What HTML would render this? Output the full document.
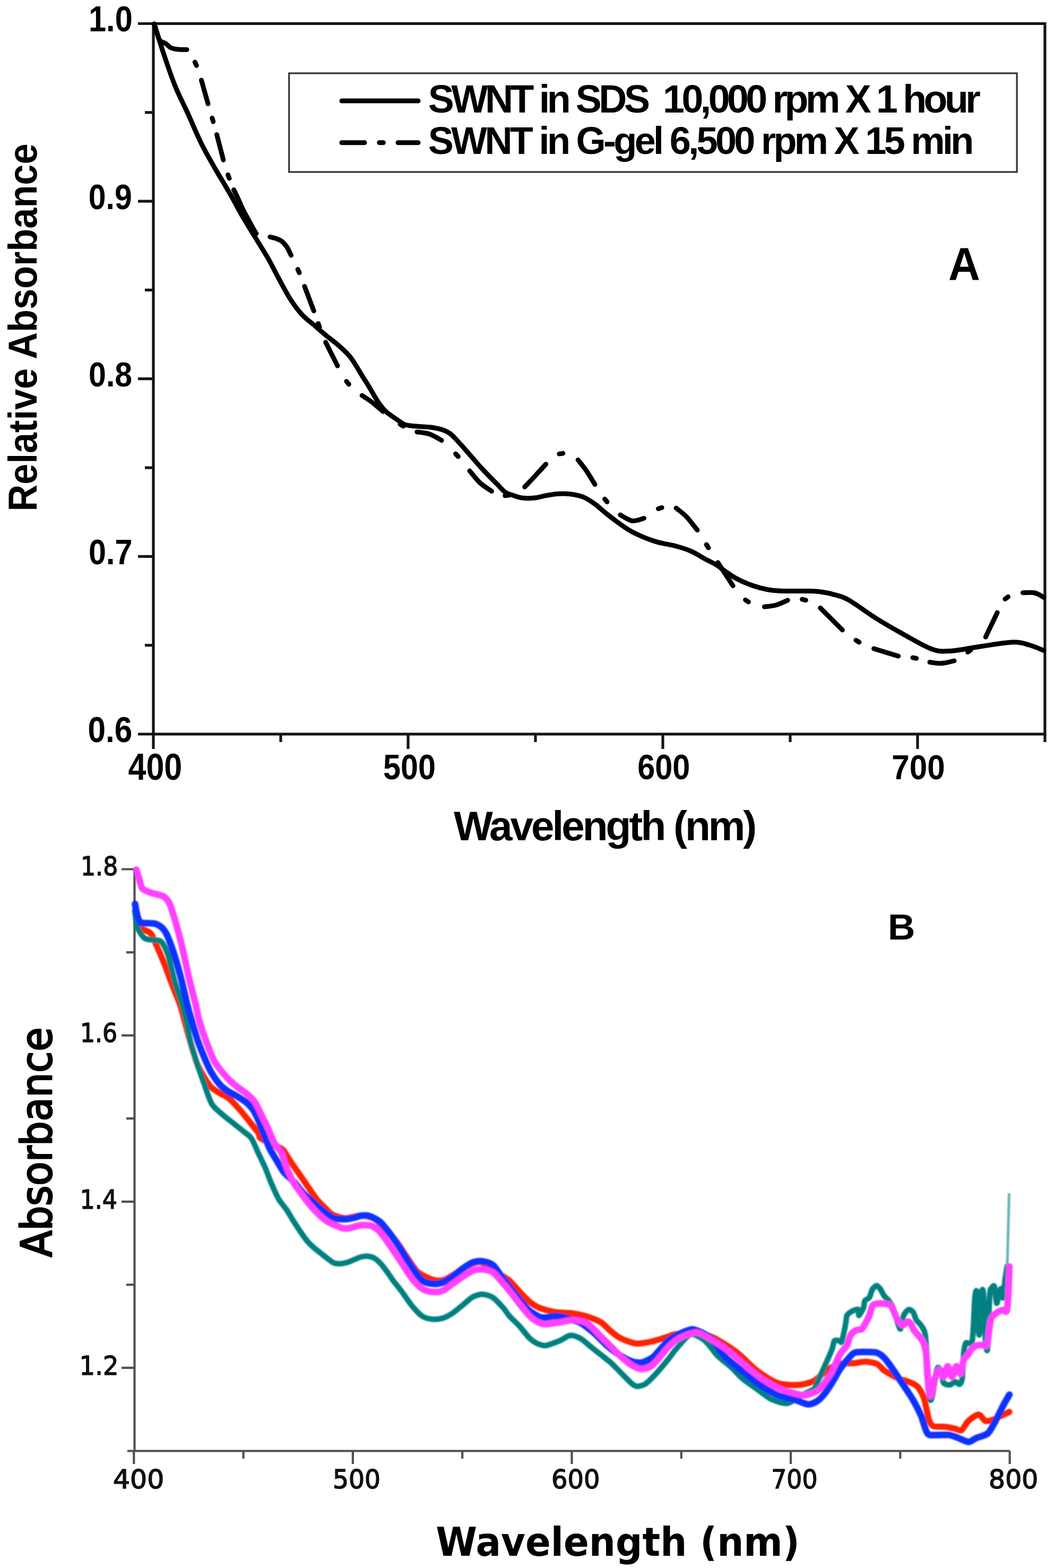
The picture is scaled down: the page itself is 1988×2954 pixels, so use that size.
<!DOCTYPE html><html><head><meta charset="utf-8"><title>SWNT absorbance spectra</title>
<style>html,body{margin:0;padding:0;background:#fff}svg{display:block}</style></head><body>
<svg xmlns="http://www.w3.org/2000/svg" width="1988" height="2954" viewBox="0 0 1988 2954">
<rect width="1988" height="2954" fill="#fff"/>
<g fill="none" stroke="#141414" stroke-width="5.2">
<rect x="289" y="44.5" width="1680" height="1338.5"/>
<path d="M260 44.5H289M260 379.1H289M260 713.7H289M260 1048.4H289M260 1383H289M273 211.8H289M273 546.4H289M273 881.1H289M273 1215.7H289M289 1383V1411M769 1383V1411M1249 1383V1411M1729 1383V1411M529 1383V1398M1009 1383V1398M1489 1383V1398M1969 1383V1398"/>
</g>
<rect x="544.7" y="138" width="1371.5" height="186" fill="none" stroke="#333" stroke-width="3.2"/>
<g fill="none" stroke="#000" stroke-width="9" stroke-linecap="round" stroke-linejoin="round">
<path d="M644 190H788"/>
<path d="M644 268.7H687M714.8 268.7H722.4M750 268.7H788"/>
<path d="M290.7 45C293.6 54.2 301.5 80.6 308 100C314.5 119.4 322.2 142.7 329.7 161.2C337.1 179.7 344.3 192.7 352.7 211C361.1 229.3 370.7 252.9 379.8 271.2C388.9 289.5 400.5 309 407.3 321C414.1 333 416.1 335.5 420.5 343C424.9 350.5 430 359 434 366C438 373 441 378.6 444.5 385C448 391.4 449.7 395 455 404.2C460.3 413.4 468.2 426.4 476.5 440C484.8 453.6 496.9 472.6 504.7 486C512.5 499.4 516.1 507.9 523 520.5C529.9 533.1 538.4 549.8 546 561.8C553.6 573.8 561.3 584.1 568.9 592.5C576.5 600.9 584.1 605.8 591.8 612.4C599.4 619 607.1 625.9 614.8 632.3C622.5 638.7 630.1 643.7 637.8 650.6C645.4 657.5 653.1 663.7 660.7 673.6C668.4 683.5 677.9 700.9 683.7 710C689.5 719.1 690.8 720.9 695.3 728.3C699.8 735.7 705.5 746.6 710.6 754.3C715.7 761.9 719.6 768.1 726 774.2C732.4 780.3 742.5 786.7 748.9 791C755.3 795.3 757.8 798.2 764.2 800.2C770.6 802.2 779.5 802.5 787.1 803.3C794.8 804.1 802.5 803.8 810.1 804.8C817.8 805.8 826.6 807.4 833 809.4C839.4 811.4 843.6 813.6 848.4 817C853.1 820.4 857 825.3 861.5 830C866 834.7 870.4 839.7 875.3 845.2C880.1 850.7 885.5 856.9 890.6 862.8C895.7 868.7 900.8 874.8 905.9 880.4C911 886 916.1 891.3 921.2 896.5C926.3 901.7 931.4 906.7 936.5 911.8C941.6 916.9 946.7 923.5 951.8 927.1C956.9 930.7 961.7 931.4 967.1 933.2C972.5 935 977.5 937.2 984.2 938C990.9 938.8 999.5 938.8 1007.1 938C1014.8 937.2 1022.4 934.7 1030.1 933.4C1037.8 932.1 1045.3 930.7 1053 930.3C1060.7 929.9 1068.3 930 1076 931C1083.7 932 1091.3 933.2 1099 936.4C1106.7 939.6 1115.2 945.4 1122 950.2C1128.8 955.1 1133.2 960.1 1140 965.5C1146.8 970.9 1154 976.7 1162.5 982.8C1171 988.9 1179.5 995.8 1191.2 1001.9C1202.9 1008 1218.9 1014.9 1232.7 1019.4C1246.5 1023.9 1262.4 1025.8 1274.1 1029C1285.8 1032.2 1293.8 1034.6 1302.8 1038.6C1311.8 1042.6 1320.5 1048.7 1328.3 1052.9C1336.1 1057.1 1343.8 1060.5 1349.6 1064C1355.4 1067.5 1357 1069.5 1363 1073.7C1369 1077.9 1378.2 1084.7 1385.9 1089C1393.6 1093.3 1401.2 1096.7 1408.9 1099.7C1416.6 1102.8 1424.2 1105.2 1431.8 1107.3C1439.4 1109.3 1447.1 1111 1454.8 1112C1462.5 1113 1470.1 1113.2 1477.8 1113.5C1485.5 1113.8 1493 1113.5 1500.7 1113.5C1508.4 1113.5 1516.1 1113.2 1523.7 1113.5C1531.3 1113.8 1538.9 1114 1546.6 1115C1554.2 1116 1561 1117.1 1569.6 1119.6C1578.2 1122.1 1584.8 1122.3 1598.4 1129.9C1612 1137.5 1633.5 1154 1651 1165C1668.5 1176 1686.2 1186 1703.7 1195.7C1721.2 1205.4 1741.7 1217.8 1756.3 1222.9C1770.9 1228 1776 1227.3 1791.4 1226.4C1806.8 1225.5 1828.8 1220.5 1848.5 1217.7C1868.2 1214.9 1894.6 1210.2 1909.9 1209.8C1925.2 1209.4 1931.1 1212.9 1940.6 1215.5C1950.1 1218.1 1962.6 1223.9 1967 1225.6"/>
<path d="M290.7 45C291.4 47.5 293.3 54.8 295 60C296.7 65.2 298.2 72.3 301 76C303.8 79.7 308.5 79.7 312 82C315.5 84.3 318.2 88.2 322 90C325.8 91.8 330 92.4 335 93C340 93.6 349.2 93.4 352 93.5M367.3 117.1L370.3 123.5M379.5 151L392 195.6M399.8 222.4L401.8 229.2M408.5 253.6L420.9 301.4M429.6 329.3L432 335.9M440.6 357.5C442 360.4 446.3 369.1 449 375C451.7 380.9 454 386.8 457 393C460 399.2 463.5 405.5 467 412C470.5 418.5 475.3 427.3 478 432C480.7 436.7 482.2 438.7 483 440M508.8 446.3C511 446.9 518.1 448.5 522 450C525.9 451.5 529 452.8 532.2 455.5C535.4 458.2 538.3 461.8 541 466C543.7 470.2 547.3 478.5 548.6 481M561.2 507.5L564 513.9M573.8 539.4L591.3 585.7M599.7 609.5L602.1 616.1M613.6 644.7L636 689.3M652.9 718.5L657.3 723.9M682.2 745.1C685.2 747.1 693.4 752 700 757C706.6 762 718.3 772.3 722 775.4M754 799.2L760 802.8M785.8 813.7C789.8 814.4 802.3 815.4 810 818C817.7 820.6 828.3 827.7 832 829.6M858.6 854.9L863.4 860.1M885.1 887.1C888.3 890.8 897.3 903 904.2 909.4C911.1 915.8 922.8 922.7 926.5 925.4M951.7 933.8L958.7 933M988.7 917.4C991.9 914 1001.4 904.2 1008 897C1014.6 889.8 1025.2 878.2 1028.6 874.4M1053.8 855.1L1060.8 854.1M1089.2 866.4C1091.8 869.9 1099.8 879.4 1105.1 887.1C1110.4 894.8 1118.3 908.4 1121 912.6M1139.6 940.2L1144 945.6M1168.9 970C1172.6 971.9 1183.8 980.1 1191.2 981.2C1198.6 982.3 1209.8 977.2 1213.5 976.4M1240.5 958.4L1247.1 956.2M1274.1 957.3C1277.3 959.9 1286.5 966.3 1293.2 973.2C1299.9 980.1 1310.5 994.5 1314 998.7M1331.2 1026L1335 1032M1352.7 1059.7L1381.2 1103.6M1404.6 1130.2L1410.4 1134M1440.4 1143.1C1444 1142.6 1454.7 1142 1462 1140C1469.3 1138 1480.6 1132.3 1484.3 1130.8M1511.6 1129.1L1518.4 1130.7M1545.7 1145.3L1587.4 1186.9M1612.9 1206.2L1618.9 1209.8M1646.6 1222L1692.7 1236.1M1720 1238.9L1726.8 1240.3M1752 1247.5C1755.7 1247.9 1766.2 1250.1 1773.9 1249.7C1781.6 1249.3 1794 1245.7 1798 1244.9M1823.7 1228.5L1829.3 1224.3M1857.3 1200.1L1879.2 1154M1894 1128.5L1899.6 1124.3M1927.5 1116.7C1931.2 1116.8 1943.4 1115.5 1950 1117C1956.6 1118.5 1964.2 1124.1 1967 1125.5"/>
</g>
<g fill="none" stroke="#505050" stroke-width="4.2">
<path d="M253.5 1637.5V2733.5M240 2733.5H1903M229 1637.5H253.5M229 1950.6H253.5M229 2263.8H253.5M229 2576.9H253.5M238 1794.1H253.5M238 2107.2H253.5M238 2420.3H253.5M252.3 2733.5V2758M664.9 2733.5V2758M1077.5 2733.5V2758M1490.1 2733.5V2758M1902.7 2733.5V2758M458.6 2733.5V2748M871.2 2733.5V2748M1283.8 2733.5V2748M1696.4 2733.5V2748"/>
</g>
<defs><filter id="bl" x="-5%" y="-5%" width="110%" height="110%"><feGaussianBlur stdDeviation="1.1"/></filter></defs>
<g fill="none" stroke-width="12.5" stroke-linecap="round" stroke-linejoin="round" filter="url(#bl)">
<path stroke="#ff2200" stroke-width="11.5" d="M254.5 1715C255 1717.7 256.7 1730.6 258 1735C259.3 1739.4 260.6 1745 264 1748C267.4 1751 279.5 1753.8 283.4 1757.8C287.3 1761.8 290.2 1770.7 293.6 1778.2C297 1785.7 304.8 1803.7 308.9 1813.9C313 1824.1 320.1 1843.9 324.2 1854.7C328.3 1865.5 335.9 1882.3 340 1895C344.1 1907.7 350.7 1935.3 355 1950C359.3 1964.7 366.7 1992.3 372 2005C377.3 2017.7 389.3 2037.7 395 2045C400.7 2052.3 410.4 2057 415 2060C419.6 2063 425.1 2064.2 429.6 2067.8C434.1 2071.4 443.6 2081.4 448.7 2087C453.8 2092.6 462.7 2103.6 467.8 2110C472.9 2116.4 484.1 2130.3 487 2134.8C489.9 2139.3 487.5 2141.3 489.9 2143.6C492.3 2145.9 501 2149.9 505 2152C509 2154.1 516.2 2157.1 520 2159C523.8 2160.9 529.7 2162.4 533.5 2166.5C537.3 2170.6 543 2181.5 548.4 2189.5C553.8 2197.5 568.9 2218.9 574 2226.4C579.1 2233.9 583.7 2240.7 587 2245.5C590.3 2250.3 595.5 2258 599 2262.1C602.5 2266.2 609.9 2273 613.5 2276.5C617.1 2280 621.1 2285.5 626 2288C630.9 2290.5 642.8 2294.7 650 2295C657.2 2295.3 672.7 2289.9 680 2290C687.3 2290.1 699 2292.8 705 2296C711 2299.2 719.3 2308.1 725 2314C730.7 2319.9 742.2 2332.7 747.8 2340C753.4 2347.3 761.9 2361.2 767 2368.6C772.1 2376 781 2390.3 786.1 2395.4C791.2 2400.5 800.1 2404.6 805.2 2406.9C810.3 2409.2 819.8 2412.2 824.4 2412.6C829 2413 835.3 2411.9 840 2410C844.7 2408.1 854.4 2401.5 860 2398C865.6 2394.5 876 2386.7 882 2384C888 2381.3 899.3 2377.5 905 2378C910.7 2378.5 920.5 2385.2 925 2388C929.5 2390.8 934.4 2395.9 939.1 2399.2C943.8 2402.5 954.7 2407.9 960 2412.5C965.3 2417.1 974 2428.2 979.1 2433.6C984.2 2439 993.2 2448.6 998.3 2452.7C1003.4 2456.8 1011 2461.7 1017.4 2464.2C1023.8 2466.7 1038.4 2470.5 1046.1 2471.8C1053.8 2473.1 1067.1 2472.7 1074.8 2473.7C1082.5 2474.7 1095.8 2477.2 1103.5 2479.5C1111.2 2481.8 1125.8 2487.2 1132.2 2491C1138.6 2494.8 1146.2 2504.1 1151.3 2508.2C1156.4 2512.3 1164 2518.5 1170.4 2521.6C1176.8 2524.7 1191.4 2530.3 1199.1 2531.1C1206.8 2531.9 1219.7 2529.1 1227.8 2527.3C1235.9 2525.5 1254.3 2519.5 1260 2517.7C1265.7 2515.9 1265.7 2515.1 1270.7 2514.1C1275.7 2513.1 1289.8 2510.2 1297.5 2510.2C1305.2 2510.2 1321.1 2512.4 1328.1 2514.1C1335.1 2515.8 1341.8 2518.4 1350 2523C1358.2 2527.6 1379.2 2540.6 1389.4 2548.5C1399.6 2556.4 1416.4 2574.8 1426.5 2582.4C1436.6 2590 1454.6 2601.8 1464.8 2605.4C1475 2609 1493.9 2609.7 1503.1 2609.2C1512.3 2608.7 1526.6 2605.2 1533.7 2601.6C1540.8 2598 1550.6 2586.6 1556.7 2582.4C1562.8 2578.2 1572.5 2571.9 1579.6 2570C1586.7 2568.1 1603.3 2568.6 1610.2 2568C1617.1 2567.4 1625.6 2565 1631.2 2565.2C1636.8 2565.4 1647.5 2567.2 1652.2 2569.4C1656.9 2571.6 1662.6 2579.2 1666.3 2582C1670 2584.8 1676.6 2588.4 1680.3 2590.5C1684 2592.6 1689.6 2595.6 1694.3 2597.5C1699 2599.4 1710.7 2602.4 1715.4 2604.5C1720.1 2606.6 1726 2609.2 1729.4 2612.9C1732.8 2616.6 1738.4 2627 1740.6 2632.6C1742.8 2638.2 1744.6 2649.2 1746 2655C1747.4 2660.8 1749.3 2671.7 1751 2676C1752.7 2680.3 1755 2685.4 1759 2687C1763 2688.6 1775.5 2687.4 1781 2688C1786.5 2688.6 1795.9 2690.8 1800 2691.7C1804.1 2692.6 1808.4 2696.5 1811.7 2694.6C1815 2692.7 1820.5 2681 1824.8 2677.1C1829.1 2673.2 1839.5 2665 1843.8 2665C1848.1 2665 1853.4 2675.7 1856.9 2677C1860.4 2678.3 1866.3 2676.2 1870 2675C1873.7 2673.8 1880.7 2670 1885 2668C1889.3 2666 1899.7 2661.1 1902 2660"/>
<path stroke="#008080" stroke-width="10.5" d="M254 1716C254.4 1718.9 256.1 1733.2 257 1738C257.9 1742.8 258.8 1748 261 1752C263.2 1756 269.3 1765.5 273.2 1768C277.1 1770.5 285.9 1770.2 290 1771C294.1 1771.8 300.3 1770.3 303.8 1774C307.3 1777.7 313.1 1788.5 316.5 1798.6C319.9 1808.7 325.7 1837 329.3 1849.6C332.9 1862.2 340.5 1883.6 343.3 1893C346.1 1902.4 348.2 1911 350.2 1920C352.2 1929 355.7 1949.9 358.4 1960.8C361.1 1971.7 367.1 1990.7 370.6 2001.6C374.1 2012.5 381.1 2031.9 384.9 2042.4C388.7 2052.9 394.5 2072.3 399.2 2080C403.9 2087.7 414.7 2095.6 420 2100.4C425.3 2105.2 434 2111.6 439.1 2115.7C444.2 2119.8 453.7 2127.2 458.3 2131C462.9 2134.8 469.8 2138.8 473.6 2144.4C477.4 2150 483.4 2165.4 487 2173C490.6 2180.6 497.1 2194 500.4 2201.7C503.7 2209.4 508.5 2222.7 511.8 2230.4C515.1 2238.1 521.4 2252.6 525.2 2259.1C529 2265.6 536.3 2273.5 540 2279C543.7 2284.5 549.4 2294.6 552.8 2300C556.2 2305.4 562.1 2314.5 565.5 2319.5C568.9 2324.5 574.9 2333.2 578.3 2337.3C581.7 2341.4 587.6 2347 591 2350.1C594.4 2353.2 600.4 2357.6 603.8 2360.3C607.2 2363 613.1 2368 616.5 2370.5C619.9 2373 625.9 2378 629.3 2379.4C632.7 2380.8 638.6 2380.9 642 2380.7C645.4 2380.5 651.4 2379.2 654.8 2378.2C658.2 2377.2 664.2 2374.4 667.6 2373C671 2371.6 676.9 2368.8 680.3 2368C683.7 2367.2 689.7 2366.4 693.1 2366.7C696.5 2367 702.4 2368.5 705.8 2370.5C709.2 2372.5 715.2 2378.3 718.6 2382C722 2385.7 728.4 2394.7 731.3 2398.6C734.2 2402.5 736.5 2406.6 740 2411.3C743.5 2416 752.5 2427.2 757.4 2433.7C762.3 2440.2 771.4 2454.3 776.5 2460.4C781.6 2466.5 790.6 2476.3 795.7 2479.6C800.8 2482.9 809.7 2484.8 814.8 2485.3C819.9 2485.8 828.8 2484.9 833.9 2483.4C839 2481.9 847.9 2477.1 853 2473.8C858.1 2470.5 867.1 2462.6 872.2 2458.5C877.3 2454.4 886.2 2445.9 891.3 2443.2C896.4 2440.5 905.3 2438.1 910.4 2438.4C915.5 2438.7 924.5 2441.6 929.6 2445.1C934.7 2448.6 944.6 2459.7 948.7 2464.3C952.8 2468.9 955.9 2474.9 960 2479.5C964.1 2484.1 974 2493 979.1 2498.6C984.2 2504.2 993.9 2517.3 998.3 2521.6C1002.7 2525.9 1008.2 2529.2 1012 2531C1015.8 2532.8 1023.1 2535 1027 2535C1030.9 2535 1037.2 2532.3 1041 2531C1044.8 2529.7 1051.2 2527.4 1055.7 2525.4C1060.2 2523.4 1069.7 2516.3 1074.8 2515.8C1079.9 2515.3 1088.8 2518.8 1093.9 2521.6C1099 2524.4 1107.9 2532.8 1113 2536.9C1118.1 2541 1127.1 2548.1 1132.2 2552.2C1137.3 2556.3 1146.2 2562.9 1151.3 2567.5C1156.4 2572.1 1165.3 2581.5 1170.4 2586.6C1175.5 2591.7 1185.8 2602.4 1189.6 2605.7C1193.4 2609 1196.4 2610.9 1199.1 2611.5C1201.8 2612.1 1207.4 2610.8 1210 2610C1212.6 2609.2 1214.6 2608.8 1218.3 2605.7C1222 2602.6 1231.8 2592.7 1237.4 2586.6C1243 2580.5 1255 2565.9 1260 2559.8C1265 2553.7 1269.1 2546.9 1274.6 2540.8C1280.1 2534.7 1294.2 2516.1 1301.3 2514.1C1308.4 2512.1 1321.3 2520.2 1328.1 2525.5C1334.9 2530.8 1345.3 2547.3 1352 2554C1358.7 2560.7 1371.6 2570.1 1378 2576C1384.4 2581.9 1393.5 2592.5 1400 2598C1406.5 2603.5 1419.4 2611.8 1426.5 2616.9C1433.6 2622 1445.6 2632.4 1453.3 2636C1461 2639.6 1476.3 2644.7 1484 2643.7C1491.7 2642.7 1504.1 2632 1510.7 2628.4C1517.3 2624.8 1529.8 2620.1 1533.7 2616.9C1537.6 2613.7 1537.3 2610.3 1540 2604.5C1542.7 2598.7 1550.3 2582 1554 2573.6C1557.7 2565.2 1565.7 2547.8 1568.1 2541.4C1570.5 2535 1570.4 2528 1572.3 2525.9C1574.2 2523.8 1580.2 2525.7 1582.1 2525.9C1584 2526.1 1584.8 2531.4 1586.3 2527.3C1587.8 2523.2 1592 2501.5 1593.3 2495C1594.6 2488.5 1594.4 2481.6 1596.1 2478.2C1597.8 2474.8 1603.2 2471.3 1606 2469.8C1608.8 2468.3 1615.5 2465.9 1617.2 2467C1618.9 2468.1 1617.3 2478.6 1618.6 2478.2C1619.9 2477.8 1625.5 2467.9 1627 2464.2C1628.5 2460.5 1628.3 2452.8 1629.8 2450.2C1631.3 2447.6 1636.3 2447.3 1638.2 2444.5C1640.1 2441.7 1641.9 2432.1 1643.8 2429.1C1645.7 2426.1 1650.1 2422.1 1652.2 2422.1C1654.3 2422.1 1657.4 2426.5 1659.3 2429.1C1661.2 2431.7 1664.2 2438.9 1666.3 2441.7C1668.4 2444.5 1672.5 2447.2 1674.7 2450.2C1676.9 2453.2 1680.9 2458.6 1683.1 2464.2C1685.3 2469.8 1689.6 2487 1691.5 2492.2C1693.4 2497.4 1695.6 2505.4 1697.1 2503.5C1698.6 2501.6 1700.7 2483.1 1702.8 2478.2C1704.9 2473.3 1710.2 2467.7 1712.6 2467C1715 2466.3 1719.1 2470 1721 2472.6C1722.9 2475.2 1724.5 2483.2 1726.6 2486.6C1728.7 2490 1734.1 2494.2 1736.4 2497.9C1738.7 2501.6 1742 2504.4 1743.5 2514.7C1745 2525 1747 2559.9 1748 2575C1749 2590.1 1750.2 2619.6 1751 2628C1751.8 2636.4 1753.1 2638.4 1754 2638C1754.9 2637.6 1756.7 2632.1 1758 2625C1759.3 2617.9 1762.7 2591.5 1764 2585C1765.3 2578.5 1766.7 2576 1768 2576C1769.3 2576 1772.7 2581.1 1774 2585C1775.3 2588.9 1775.9 2601.8 1778 2605C1780.1 2608.2 1787.1 2609.3 1790 2609C1792.9 2608.7 1797.6 2603.1 1800 2603C1802.4 2602.9 1806.3 2608.7 1808 2608C1809.7 2607.3 1811.9 2605.7 1813 2598C1814.1 2590.3 1815.1 2559.1 1816 2550C1816.9 2540.9 1817.9 2533.2 1820 2530C1822.1 2526.8 1829.7 2537.3 1832 2526C1834.3 2514.7 1835.8 2457 1837 2445C1838.2 2433 1839.9 2426.7 1841 2436C1842.1 2445.3 1843.9 2514.5 1845 2515C1846.1 2515.5 1847.9 2450.5 1849 2440C1850.1 2429.5 1851.9 2424.7 1853 2436C1854.1 2447.3 1855.9 2511.1 1857 2525C1858.1 2538.9 1859.9 2551.3 1861 2540C1862.1 2528.7 1863.9 2455.2 1865 2440C1866.1 2424.8 1867.8 2428.1 1869 2426C1870.2 2423.9 1872.8 2420.1 1874 2424C1875.2 2427.9 1876.9 2452.9 1878 2455C1879.1 2457.1 1880.9 2443.6 1882 2440C1883.1 2436.4 1884.9 2427.3 1886 2428C1887.1 2428.7 1888.9 2447.4 1890 2445C1891.1 2442.6 1892.9 2418 1894 2410C1895.1 2402 1897.5 2388.3 1898 2385"/>
<path stroke="#66b3b3" stroke-width="5" d="M1898 2385L1901.5 2250"/>
<path stroke="#1030ff" d="M254.5 1703C255 1705.5 256.9 1717.6 258 1722C259.1 1726.4 261.4 1733.7 263 1736C264.6 1738.3 265.9 1738.4 270 1739C274.1 1739.6 288.1 1738.3 293.6 1740.5C299.1 1742.7 307 1748.1 311.4 1755.2C315.8 1762.3 322.8 1781.9 326.7 1793.5C330.6 1805.1 337.3 1828.7 340.8 1842C344.3 1855.3 350.3 1882.6 352.9 1893C355.5 1903.4 357.8 1911 360.4 1920C363 1929 368.9 1949.9 372.7 1960.8C376.5 1971.7 385.5 1993.4 389 2001.6C392.5 2009.8 395.9 2016.6 399.2 2022C402.5 2027.4 409.7 2038 413.5 2042.4C417.3 2046.8 423.7 2052 428 2055C432.3 2058 441.5 2062.3 446 2065C450.5 2067.7 458.1 2071.9 462 2075C465.9 2078.1 471.9 2083.9 475 2088C478.1 2092.1 482.1 2099.8 485 2106C487.9 2112.2 493.4 2127.1 496.5 2134.8C499.6 2142.5 504.7 2156.6 508 2163.5C511.3 2170.4 517.8 2180.5 521.4 2186.4C525 2192.3 530.5 2202.6 534.8 2208C539.1 2213.4 548.8 2221.1 553.9 2226.6C559 2232.1 568.1 2244.3 573 2249.6C577.9 2254.9 586.9 2262.3 591 2266C595.1 2269.7 600.4 2274.5 603.8 2277.4C607.2 2280.3 613.1 2285.2 616.5 2287.6C619.9 2290 625.9 2294.1 629.3 2295.3C632.7 2296.5 638.6 2296.3 642 2296.5C645.4 2296.7 651.4 2296.8 654.8 2296.5C658.2 2296.2 664.2 2294.8 667.6 2294C671 2293.2 676.9 2290.7 680.3 2290.2C683.7 2289.7 689.7 2289.5 693.1 2290.2C696.5 2290.9 702.4 2293.4 705.8 2295.3C709.2 2297.2 715.2 2301 718.6 2304.2C722 2307.4 728.4 2315.9 731.3 2319.5C734.2 2323.1 736.5 2326 740 2331C743.5 2336 752.5 2349.5 757.4 2357.1C762.3 2364.7 771.4 2380.3 776.5 2387.7C781.6 2395.1 790.6 2408.5 795.7 2412.6C800.8 2416.7 809.7 2417.9 814.8 2418.4C819.9 2418.9 828.8 2418.2 833.9 2416.4C839 2414.6 847.9 2408.6 853 2405C858.1 2401.4 867.1 2393.3 872.2 2389.7C877.3 2386.1 886.2 2380 891.3 2378.2C896.4 2376.4 905.3 2375.5 910.4 2376.3C915.5 2377.1 924.5 2379.5 929.6 2384C934.7 2388.5 944.6 2404.7 948.7 2410C952.8 2415.3 955.9 2418.8 960 2424C964.1 2429.2 974.4 2443.3 979.1 2449C983.8 2454.7 991.7 2463.7 995 2467C998.3 2470.3 1001 2472.1 1004 2474C1007 2475.9 1013.9 2480.3 1017.4 2481.4C1020.9 2482.5 1026.2 2482.3 1030 2482C1033.8 2481.7 1042 2479.6 1046 2479.5C1050 2479.4 1055.5 2480 1060 2481C1064.5 2482 1075.5 2485.5 1080 2487C1084.5 2488.5 1090.9 2490.5 1094 2492C1097.1 2493.5 1099.7 2495.7 1103.5 2498.6C1107.3 2501.5 1117.5 2509.4 1122.6 2514C1127.7 2518.6 1136.6 2528.4 1141.7 2533C1146.8 2537.6 1155.8 2544.8 1160.9 2548.4C1166 2552 1175.5 2557.7 1180 2560C1184.5 2562.3 1191.2 2565.1 1195 2566C1198.8 2566.9 1205.4 2567.4 1208.7 2567C1212 2566.6 1216.9 2564.5 1220 2563C1223.1 2561.5 1228.1 2559.2 1231.7 2556C1235.3 2552.8 1243.2 2542.9 1247 2538.8C1250.8 2534.7 1255.8 2528.7 1260 2525.4C1264.2 2522.1 1272.4 2516.9 1278.4 2514.1C1284.4 2511.3 1297.5 2504 1305.2 2504.5C1312.9 2505 1329.8 2514 1335.8 2517.9C1341.8 2521.8 1345.9 2528.9 1350 2534C1354.1 2539.1 1361.3 2550.8 1366.4 2556.2C1371.5 2561.6 1380.3 2568.2 1388.3 2574.8C1396.3 2581.4 1416.3 2598.3 1426.5 2605.4C1436.7 2612.5 1455.6 2624.3 1464.8 2628.4C1474 2632.5 1487.7 2633.7 1495.4 2636C1503.1 2638.3 1516.3 2645.1 1522.2 2645.6C1528.1 2646.1 1535.8 2642.3 1540 2639.6C1544.2 2636.9 1550.3 2630.2 1554 2625.5C1557.7 2620.8 1564.4 2610.5 1568.1 2604.5C1571.8 2598.5 1578.4 2586.2 1582.1 2580.6C1585.8 2575 1592.4 2566.7 1596.1 2562.4C1599.8 2558.1 1605.5 2550.5 1610.2 2548.4C1614.9 2546.3 1625.6 2547 1631.2 2547C1636.8 2547 1647.5 2546.9 1652.2 2548.4C1656.9 2549.9 1662.6 2554.5 1666.3 2558.2C1670 2561.9 1676.6 2571.2 1680.3 2576.4C1684 2581.6 1690.6 2591.9 1694.3 2597.5C1698 2603.1 1704.7 2612.8 1708.4 2618.5C1712.1 2624.2 1718.3 2633.4 1722 2640C1725.7 2646.6 1732.5 2659.9 1736 2668C1739.5 2676.1 1743.9 2696.3 1748 2701C1752.1 2705.7 1761.1 2703.1 1766.5 2703.4C1771.9 2703.7 1783.4 2702.8 1788.3 2703.4C1793.2 2704 1798 2706.1 1802.9 2707.8C1807.8 2709.5 1819.9 2716.3 1824.8 2716.5C1829.7 2716.7 1834.5 2711.3 1839.4 2709.2C1844.3 2707.1 1856.4 2704.8 1861.3 2700.5C1866.2 2696.2 1872 2684.1 1875.9 2677.1C1879.8 2670.1 1886.9 2654.6 1890.4 2648C1893.9 2641.4 1900.5 2630.2 1902.1 2627.5"/>
<path stroke="#ff40ff" d="M256.9 1638.3C257.6 1640.5 260.5 1650.2 262 1655C263.5 1659.8 265.5 1670.5 268.4 1674C271.3 1677.5 279.5 1680 283.7 1681.6C287.9 1683.2 296.6 1685 300 1686C303.4 1687 306.6 1687.2 309.2 1689.3C311.8 1691.4 316.7 1696.2 319.4 1702C322.1 1707.8 326.5 1722.3 329.6 1732.7C332.7 1743.1 338.8 1765.4 342.3 1780C345.8 1794.6 352.6 1826.9 356.1 1842C359.6 1857.1 366.4 1882.6 368.9 1893C371.4 1903.4 372.2 1911 374.7 1920C377.2 1929 383.9 1949.9 388 1960.8C392.1 1971.7 399.7 1992.1 405.3 2001.6C410.9 2011.1 424.2 2026.1 429.8 2032.2C435.4 2038.3 442.1 2043.5 447.1 2047.6C452.1 2051.7 463.1 2058.9 467.6 2062.9C472.1 2066.9 477.7 2072.4 481 2077.4C484.3 2082.4 489.2 2093.8 492.5 2100.4C495.8 2107 502.2 2120 505.5 2127.1C508.8 2134.2 513.6 2147.8 517 2153.9C520.4 2160 527.9 2166.6 531 2173C534.1 2179.4 537.3 2194 540.5 2201.7C543.7 2209.4 551.6 2224.7 555 2230.6C558.4 2236.5 563.1 2241.9 566 2246C568.9 2250.1 573.8 2257.1 577 2261.2C580.2 2265.3 586 2272.4 589.7 2276.5C593.4 2280.6 601 2288.5 605 2292C609 2295.5 615.9 2300.6 620 2303C624.1 2305.4 632.2 2308.5 636 2310C639.8 2311.5 645 2314 648.4 2314.4C651.8 2314.8 657.8 2313.8 661.2 2313.1C664.6 2312.4 670.5 2310 673.9 2309.3C677.3 2308.6 683.3 2308 686.7 2308C690.1 2308 696 2308.1 699.4 2309.3C702.8 2310.5 708.8 2313.8 712.2 2316.9C715.6 2320 721.3 2327.3 725 2332.2C728.7 2337.1 735.7 2347.6 740 2354C744.3 2360.4 752.5 2372.8 757.4 2380.1C762.3 2387.4 771.4 2402.4 776.5 2408.8C781.6 2415.2 790.6 2424.6 795.7 2427.9C800.8 2431.2 809.7 2433.2 814.8 2433.7C819.9 2434.2 828.8 2433.7 833.9 2431.7C839 2429.7 847.9 2422 853 2418.4C858.1 2414.8 867.1 2408.3 872.2 2405C877.3 2401.7 886.2 2395.3 891.3 2393.5C896.4 2391.7 905.3 2391.1 910.4 2391.6C915.5 2392.1 924.5 2393.7 929.6 2397.3C934.7 2400.9 944.6 2413.8 948.7 2418.4C952.8 2423 955.9 2426.6 960 2431.7C964.1 2436.8 974 2450.1 979.1 2456.5C984.2 2462.9 993.9 2475 998.3 2479.5C1002.7 2484 1008.2 2488 1012 2490C1015.8 2492 1023.1 2494.4 1027 2494.8C1030.9 2495.2 1037.2 2493.5 1041 2493C1044.8 2492.5 1051.8 2491.7 1055.7 2491C1059.6 2490.3 1066.2 2488.5 1070 2488C1073.8 2487.5 1080.4 2486.8 1084.4 2487.1C1088.4 2487.4 1096.2 2488.5 1100 2490C1103.8 2491.5 1108.7 2494.9 1113 2498.6C1117.3 2502.3 1127.1 2512.6 1132.2 2517.7C1137.3 2522.8 1146.2 2531.8 1151.3 2536.9C1156.4 2542 1165.3 2551.4 1170.4 2556C1175.5 2560.6 1184.5 2568.2 1189.6 2571.3C1194.7 2574.4 1203.6 2578.7 1208.7 2579C1213.8 2579.3 1222.7 2576.8 1227.8 2573.2C1232.9 2569.6 1242.7 2557 1247 2552.2C1251.3 2547.4 1255.8 2541 1260 2536.9C1264.2 2532.8 1271.4 2525.3 1278.4 2521.7C1285.4 2518.1 1304.1 2509.7 1312.8 2510.2C1321.5 2510.7 1335.2 2520.7 1343.4 2525.5C1351.6 2530.3 1366.5 2540.3 1374 2546C1381.5 2551.7 1395 2563.7 1400 2568C1405 2572.3 1405.6 2574.1 1411.2 2578.6C1416.8 2583.1 1433.1 2596.2 1441.8 2601.6C1450.5 2607 1466.6 2615.2 1476.3 2618.8C1486 2622.4 1506.1 2628.2 1514.6 2628.4C1523.1 2628.6 1534.7 2623.2 1540 2620C1545.3 2616.8 1550.3 2609.4 1554 2604.5C1557.7 2599.6 1564.4 2590.4 1568.1 2583.5C1571.8 2576.6 1578.4 2559.2 1582.1 2552.6C1585.8 2546 1593.3 2539.4 1596.1 2534.3C1598.9 2529.2 1600.8 2518.4 1603.1 2514.7C1605.4 2511 1610.2 2507.8 1613 2506.3C1615.8 2504.8 1621.8 2505.4 1624.2 2503.5C1626.6 2501.6 1629.3 2495.6 1631.2 2492.2C1633.1 2488.8 1636.3 2482.7 1638.2 2478.2C1640.1 2473.7 1642.4 2461.6 1645.2 2458.6C1648 2455.6 1655 2455.8 1659.3 2455.8C1663.6 2455.8 1674.1 2456.5 1677.5 2458.6C1680.9 2460.7 1682.6 2467.5 1684.5 2471.2C1686.4 2474.9 1689.2 2483.2 1691.5 2486.6C1693.8 2490 1698.8 2496.1 1701.4 2496.5C1704 2496.9 1709.1 2489.6 1711.2 2489.4C1713.3 2489.2 1715.3 2492.7 1716.8 2495C1718.3 2497.3 1720.7 2503.7 1722.4 2506.3C1724.1 2508.9 1727.2 2511.9 1729.4 2514.7C1731.6 2517.5 1737.1 2522.8 1739.2 2527.3C1741.3 2531.8 1743.7 2539.4 1744.9 2548.4C1746.1 2557.4 1747.1 2584.4 1748 2595C1748.9 2605.6 1750.9 2624 1752 2628C1753.1 2632 1754.7 2629.3 1756 2625C1757.3 2620.7 1760.1 2602 1762 2596C1763.9 2590 1767.9 2580.3 1770 2580C1772.1 2579.7 1775.9 2594.8 1778 2594C1780.1 2593.2 1783.9 2574 1786 2574C1788.1 2574 1791.9 2594 1794 2594C1796.1 2594 1799.9 2574.8 1802 2574C1804.1 2573.2 1808.1 2589.6 1810 2588C1811.9 2586.4 1814.1 2566.8 1816 2562C1817.9 2557.2 1821.9 2554.9 1824 2552C1826.1 2549.1 1829.9 2542.3 1832 2540C1834.1 2537.7 1837.6 2535.8 1840 2535C1842.4 2534.2 1847.3 2534.1 1850 2534C1852.7 2533.9 1858.1 2537.9 1860 2534C1861.9 2530.1 1862.9 2511.8 1864 2505C1865.1 2498.2 1865.9 2487.4 1868 2483C1870.1 2478.6 1877.1 2474 1880 2472C1882.9 2470 1887.7 2468.3 1890 2468C1892.3 2467.7 1895.7 2473.7 1897 2470C1898.3 2466.3 1899.3 2451.2 1900 2440C1900.7 2428.8 1901.7 2393.2 1902 2386"/>
</g>
<text x="167" y="59" font-family="'Liberation Sans', Arial, sans-serif" font-weight="bold" font-size="67.7" fill="#000" textLength="82.8" lengthAdjust="spacingAndGlyphs">1.0</text>
<text x="166.7" y="393.5" font-family="'Liberation Sans', Arial, sans-serif" font-weight="bold" font-size="66.6" fill="#000" textLength="82" lengthAdjust="spacingAndGlyphs">0.9</text>
<text x="167" y="728.3" font-family="'Liberation Sans', Arial, sans-serif" font-weight="bold" font-size="65.1" fill="#000" textLength="82.3" lengthAdjust="spacingAndGlyphs">0.8</text>
<text x="167" y="1063" font-family="'Liberation Sans', Arial, sans-serif" font-weight="bold" font-size="66.7" fill="#000" textLength="82.4" lengthAdjust="spacingAndGlyphs">0.7</text>
<text x="165.5" y="1398" font-family="'Liberation Sans', Arial, sans-serif" font-weight="bold" font-size="68.5" fill="#000" textLength="83.9" lengthAdjust="spacingAndGlyphs">0.6</text>
<text x="241.5" y="1469" font-family="'Liberation Sans', Arial, sans-serif" font-weight="bold" font-size="69.7" fill="#000" textLength="101.8" lengthAdjust="spacingAndGlyphs">400</text>
<text x="722" y="1468.4" font-family="'Liberation Sans', Arial, sans-serif" font-weight="bold" font-size="66.2" fill="#000" textLength="99" lengthAdjust="spacingAndGlyphs">500</text>
<text x="1201.2" y="1468.4" font-family="'Liberation Sans', Arial, sans-serif" font-weight="bold" font-size="66.2" fill="#000" textLength="99.2" lengthAdjust="spacingAndGlyphs">600</text>
<text x="1680.3" y="1468.3" font-family="'Liberation Sans', Arial, sans-serif" font-weight="bold" font-size="65.6" fill="#000" textLength="100.5" lengthAdjust="spacingAndGlyphs">700</text>
<text x="855.1" y="1583.3" font-family="'Liberation Sans', Arial, sans-serif" font-weight="bold" font-size="78.2" fill="#000" textLength="571.3" lengthAdjust="spacing">Wavelength (nm)</text>
<text transform="translate(69.2 963.5) rotate(-90)" x="0" y="0" font-family="'Liberation Sans', Arial, sans-serif" font-weight="bold" font-size="76.7" fill="#000" textLength="693.1" lengthAdjust="spacingAndGlyphs">Relative Absorbance</text>
<text x="1787" y="527" font-family="'Liberation Sans', Arial, sans-serif" font-weight="bold" font-size="86.2" fill="#000" textLength="60" lengthAdjust="spacingAndGlyphs">A</text>
<text x="806.7" y="211.7" font-family="'Liberation Sans', Arial, sans-serif" font-weight="bold" font-size="73.5" fill="#000" textLength="1041.2" lengthAdjust="spacing">SWNT in SDS  10,000 rpm X 1 hour</text>
<text x="806.7" y="290.3" font-family="'Liberation Sans', Arial, sans-serif" font-weight="bold" font-size="72.1" fill="#000" textLength="1028.6" lengthAdjust="spacing">SWNT in G-gel 6,500 rpm X 15 min</text>
<text x="152" y="1649" font-family="'DejaVu Sans', Verdana, sans-serif" font-weight="normal" font-size="50.4" fill="#111" textLength="70.3" lengthAdjust="spacingAndGlyphs" stroke="#111" stroke-width="1.5" stroke-linejoin="round">1.8</text>
<text x="151" y="1963" font-family="'DejaVu Sans', Verdana, sans-serif" font-weight="normal" font-size="50.3" fill="#111" textLength="70.2" lengthAdjust="spacingAndGlyphs" stroke="#111" stroke-width="1.5" stroke-linejoin="round">1.6</text>
<text x="150.5" y="2276.5" font-family="'DejaVu Sans', Verdana, sans-serif" font-weight="normal" font-size="50.3" fill="#111" textLength="70.6" lengthAdjust="spacingAndGlyphs" stroke="#111" stroke-width="1.5" stroke-linejoin="round">1.4</text>
<text x="149.6" y="2590" font-family="'DejaVu Sans', Verdana, sans-serif" font-weight="normal" font-size="50.4" fill="#111" textLength="73.9" lengthAdjust="spacingAndGlyphs" stroke="#111" stroke-width="1.5" stroke-linejoin="round">1.2</text>
<text x="213" y="2804" font-family="'DejaVu Sans', Verdana, sans-serif" font-weight="normal" font-size="50.3" fill="#111" textLength="96.3" lengthAdjust="spacingAndGlyphs" stroke="#111" stroke-width="1.5" stroke-linejoin="round">400</text>
<text x="627.1" y="2804" font-family="'DejaVu Sans', Verdana, sans-serif" font-weight="normal" font-size="50.3" fill="#111" textLength="89.9" lengthAdjust="spacingAndGlyphs" stroke="#111" stroke-width="1.5" stroke-linejoin="round">500</text>
<text x="1039" y="2804" font-family="'DejaVu Sans', Verdana, sans-serif" font-weight="normal" font-size="50.3" fill="#111" textLength="91.4" lengthAdjust="spacingAndGlyphs" stroke="#111" stroke-width="1.5" stroke-linejoin="round">600</text>
<text x="1453.2" y="2804" font-family="'DejaVu Sans', Verdana, sans-serif" font-weight="normal" font-size="50.3" fill="#111" textLength="87.4" lengthAdjust="spacingAndGlyphs" stroke="#111" stroke-width="1.5" stroke-linejoin="round">700</text>
<text x="1863" y="2804" font-family="'DejaVu Sans', Verdana, sans-serif" font-weight="normal" font-size="50.3" fill="#111" textLength="93.4" lengthAdjust="spacingAndGlyphs" stroke="#111" stroke-width="1.5" stroke-linejoin="round">800</text>
<text x="821.3" y="2930.9" font-family="'DejaVu Sans', Verdana, sans-serif" font-weight="bold" font-size="74.1" fill="#000" textLength="685.7" lengthAdjust="spacingAndGlyphs">Wavelength (nm)</text>
<text transform="translate(96.9 2368.3) rotate(-90)" x="0" y="0" font-family="'DejaVu Sans', Verdana, sans-serif" font-weight="normal" font-size="79.6" fill="#000" textLength="432.8" lengthAdjust="spacingAndGlyphs" stroke="#000" stroke-width="3" stroke-linejoin="round">Absorbance</text>
<text x="1673" y="1770.2" font-family="'Liberation Sans', Arial, sans-serif" font-weight="bold" font-size="68.6" fill="#000" textLength="51.5" lengthAdjust="spacingAndGlyphs">B</text>
</svg></body></html>
